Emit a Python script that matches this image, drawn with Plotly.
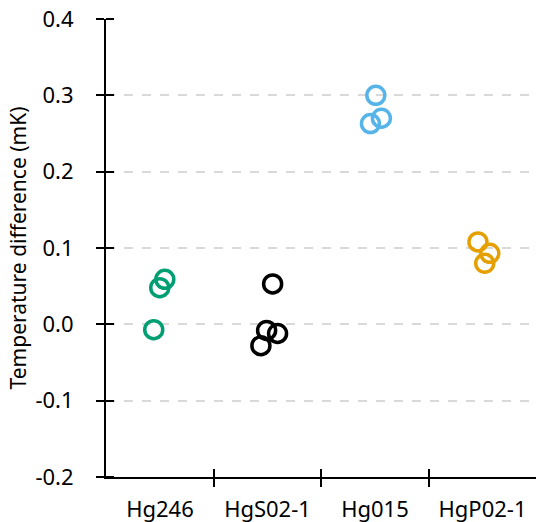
import plotly.graph_objects as go

categories = ["Hg246", "HgS02-1", "Hg015", "HgP02-1"]
colors = ["#009E73", "#000000", "#56B4E9", "#E69F00"]
# temperature differences (mK), per group
values = [
    [-0.007, 0.048, 0.059],
    [0.053, -0.008, -0.012, -0.028],
    [0.300, 0.263, 0.270],
    [0.108, 0.093, 0.080],
]
# horizontal jitter of each point within its group (category units)
jitter = [
    [-0.056, 0.0, 0.047],
    [0.05, -0.006, 0.096, -0.059],
    [0.01, -0.04, 0.062],
    [-0.04, 0.07, 0.023],
]
y_ticks = [-0.2, -0.1, 0.0, 0.1, 0.2, 0.3, 0.4]
y_ticktext = ["-0.2", "-0.1", "0.0", "0.1", "0.2", "0.3", "0.4"]

FONT = "Noto Sans"
W, H = 540, 522
ML, MR, MT, MB = 106, 4, 19, 45

fig = go.Figure()
for i, (cat, col) in enumerate(zip(categories, colors)):
    fig.add_trace(go.Scatter(
        x=[i + j for j in jitter[i]], y=values[i], mode="markers", name=cat,
        marker=dict(symbol="circle-open", size=18, color=col, line=dict(width=3.5, color=col)),
        showlegend=False, hoverinfo="skip"))

n = len(categories)
dividers = [i - 0.5 for i in range(n + 1)]
eps = 1e-7
half_cat_px = int(round((W - ML - MR) / n / 2))

fig.update_layout(
    width=W, height=H,
    margin=dict(l=ML, r=MR, t=MT, b=MB),
    paper_bgcolor="white", plot_bgcolor="white",
    font=dict(family=FONT, size=22, color="black"),
    xaxis=dict(range=[-0.5, n - 0.5], tickvals=dividers, ticktext=categories + [""],
               ticklabelshift=half_cat_px,
               ticks="inside", ticklen=8, tickwidth=2, tickcolor="black",
               showgrid=False, zeroline=False, showline=True, linecolor="black", linewidth=2,
               ticklabelstandoff=12, automargin=False, tickfont=dict(size=22),
               minor=dict(tickvals=[d + eps for d in dividers], ticks="outside", ticklen=8, tickwidth=2,
                          tickcolor="black", showgrid=False)),
    yaxis=dict(range=[-0.2, 0.4], tickvals=y_ticks, ticktext=y_ticktext, ticks="outside", ticklen=8,
               tickwidth=2, tickcolor="black", showline=True, linecolor="black", linewidth=2,
               zeroline=False, showgrid=True, gridcolor="#d9d9d9", griddash="dash", gridwidth=1.5,
               ticklabelstandoff=18, automargin=False, tickfont=dict(size=22),
               minor=dict(tickvals=[v + eps for v in y_ticks], ticks="inside", ticklen=8, tickwidth=2,
                          tickcolor="black", showgrid=False),
               title=dict(text="Temperature difference (mK)", font=dict(size=21), standoff=3)),
)
fig.write_html("out.html")
